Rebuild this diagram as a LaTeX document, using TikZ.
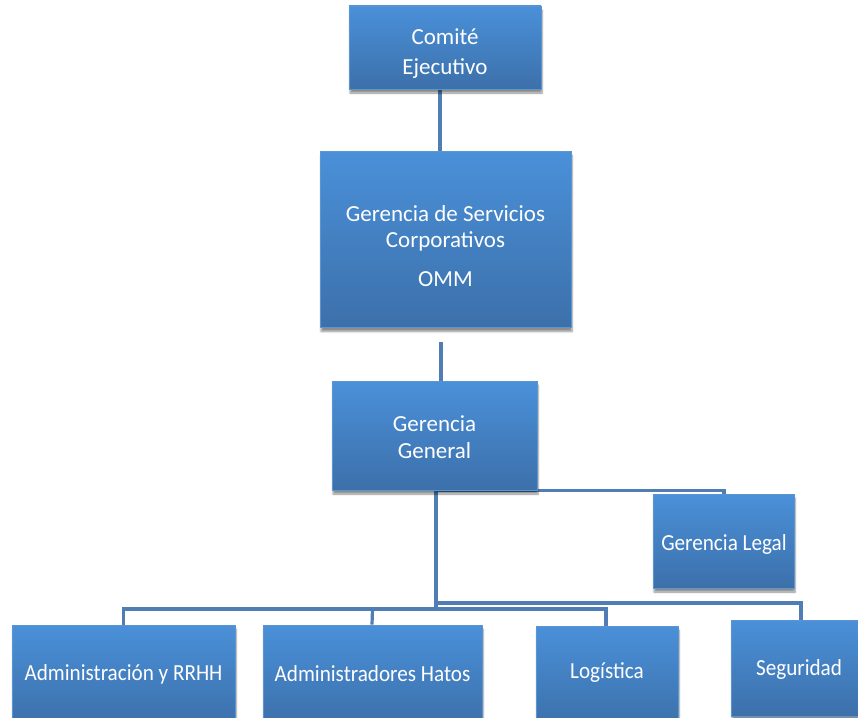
\documentclass[tikz,border=0pt]{standalone}
\usepackage{fontspec}
\setmainfont{Carlito}
\newfontfamily\narrowfont[FakeStretch=0.92]{Carlito}
\usetikzlibrary{shadows.blur,backgrounds}
\definecolor{boxtop}{RGB}{74,144,217}
\definecolor{boxbot}{RGB}{60,112,170}
\definecolor{boxedge}{RGB}{92,150,210}
\definecolor{linkc}{RGB}{80,126,180}
\tikzset{
  orgbox/.style={rectangle, draw=boxedge, line width=0.8pt, top color=boxtop, bottom color=boxbot,
    inner sep=0pt,
    blur shadow={shadow xshift=1pt, shadow yshift=-4pt, shadow blur steps=6, shadow opacity=45}},
  boxtext/.style={text=white, font=\fontsize{23}{27}\selectfont, align=center, inner sep=0pt},
  narrowtext/.style={boxtext, font=\narrowfont\fontsize{23}{27}\selectfont},
  link/.style={draw=linkc, line width=3.2pt}
}
\begin{document}
\begin{tikzpicture}[x=1pt,y=-1pt]
\useasboundingbox (0,0) rectangle (858,717);
\clip (0,0) rectangle (858,717);
\node[orgbox, minimum width=192pt, minimum height=83pt] (ce) at (445,47.5) {};
\node[orgbox, minimum width=251pt, minimum height=176pt] (gsc) at (445.5,239.5) {};
\node[orgbox, minimum width=205pt, minimum height=109pt] (gg) at (434.5,435.5) {};
\node[orgbox, minimum width=141pt, minimum height=94pt] (gl) at (723.5,541) {};
\node[orgbox, minimum width=223pt, minimum height=100pt] (adm) at (123.5,675) {};
\node[orgbox, minimum width=219pt, minimum height=100pt] (hat) at (372.5,675) {};
\node[orgbox, minimum width=142pt, minimum height=100pt] (log) at (607,676) {};
\node[orgbox, minimum width=128pt, minimum height=96pt] (seg) at (795,668) {};
\node[boxtext, font=\fontsize{23}{30}\selectfont] (cet) at (445,53.5) {Comité\\Ejecutivo};
\node[boxtext, font=\fontsize{23}{26}\selectfont] (gsct) at (445.5,246) {Gerencia de Servicios\\Corporativos\\[13pt]OMM};
\node[boxtext] (ggt) at (434.5,437) {Gerencia\\General};
\node[narrowtext] (glt) at (724,544) {Gerencia Legal};
\node[narrowtext] (admt) at (123.5,674) {Administración y RRHH};
\node[narrowtext] (hatt) at (372.5,674) {Administradores Hatos};
\node[narrowtext] (logt) at (607,673) {Logística};
\node[narrowtext] (segt) at (799,669) {Seguridad};
\coordinate (jl) at (436,609);
\coordinate (ju) at (436,603);
\begin{scope}[on background layer]
\draw[link] (ce.south -| 440,0) -- (gsc.north -| 440,0);
\draw[link] ([yshift=-14pt]gsc.south -| 441,0) -- (gg.north -| 441,0);
\draw[link] (gg.south -| 436,0) -- (jl);
\draw[link] (gg.south -| 436,0) -- (gg.south -| 724,0) -- (gl.north -| 724,0);
\draw[link] (adm.north) -- (adm.north |- jl) -- (jl) -- (jl -| 606,0) -- (log.north -| 606,0);
\draw[link] (hat.north -| 372,0) -- (hat.north |- jl);
\draw[link] (ju) -- (ju -| 801,0) -- (seg.north -| 801,0);
\end{scope}
\end{tikzpicture}
\end{document}
